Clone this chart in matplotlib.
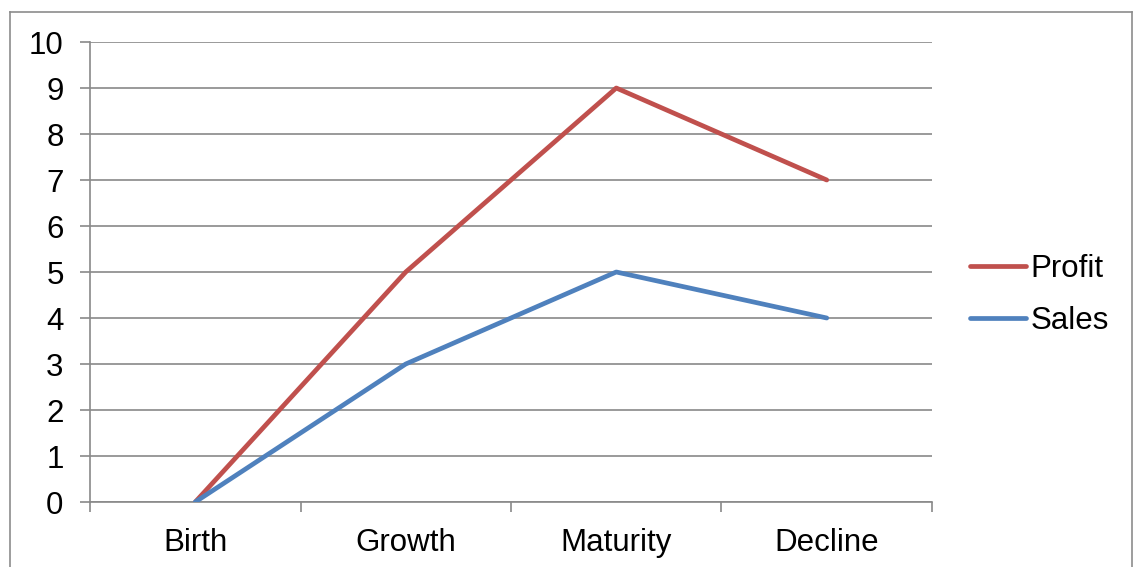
import matplotlib.pyplot as plt
from matplotlib.lines import Line2D

stages = ['Birth', 'Growth', 'Maturity', 'Decline']
profit = [0, 5, 9, 7]
sales = [0, 3, 5, 4]

plt.rcParams['font.family'] = ['Liberation Sans', 'DejaVu Sans']
W, H = 1136, 567
fs = 22.5
fig = plt.figure(figsize=(W / 100, H / 100), dpi=100)
ax = fig.add_axes([90 / W, 1 - 502 / H, (932 - 90) / W, (502 - 42) / H])

grid_c = '#898989'
x = list(range(len(stages)))
ax.plot(x, profit, color='#C0504D', lw=3.4, label='Profit', solid_capstyle='round', zorder=3)
ax.plot(x, sales, color='#4F81BD', lw=3.4, label='Sales', solid_capstyle='round', zorder=3)

ax.set_xlim(-0.5, len(stages) - 0.5)
ax.set_ylim(0, 10)
ax.set_yticks(range(0, 11))
ax.yaxis.grid(True, color=grid_c, lw=1.2)
ax.set_axisbelow(True)
for s in ['top', 'right']:
    ax.spines[s].set_visible(False)
for s in ['left', 'bottom']:
    ax.spines[s].set_color(grid_c)
    ax.spines[s].set_linewidth(1.2)

ax.set_xticks(x)
ax.set_xticklabels(stages)
ax.set_xticks([i - 0.5 for i in range(len(stages) + 1)], minor=True)
ax.tick_params(axis='x', which='major', length=0, pad=19, labelsize=fs)
ax.tick_params(axis='x', which='minor', length=7, color=grid_c, width=1.2)
ax.tick_params(axis='y', length=7, color=grid_c, width=1.2, pad=12, labelsize=fs)

ax.legend(loc='center left', bbox_to_anchor=(954 / W, 1 - 295 / H), bbox_transform=fig.transFigure,
          frameon=False, fontsize=fs, handlelength=1.8, handletextpad=0.15, labelspacing=0.68,
          borderpad=0)

# outer chart border
bc = '#8c8c8c'
fig.add_artist(Line2D([10 / W, 10 / W], [0, 1 - 12 / H], color=bc, lw=1.2))
fig.add_artist(Line2D([10 / W, 1132 / W], [1 - 12 / H, 1 - 12 / H], color=bc, lw=1.2))
fig.add_artist(Line2D([1132 / W, 1132 / W], [0, 1 - 12 / H], color=bc, lw=1.2))

fig.savefig('out.png', dpi=100)
